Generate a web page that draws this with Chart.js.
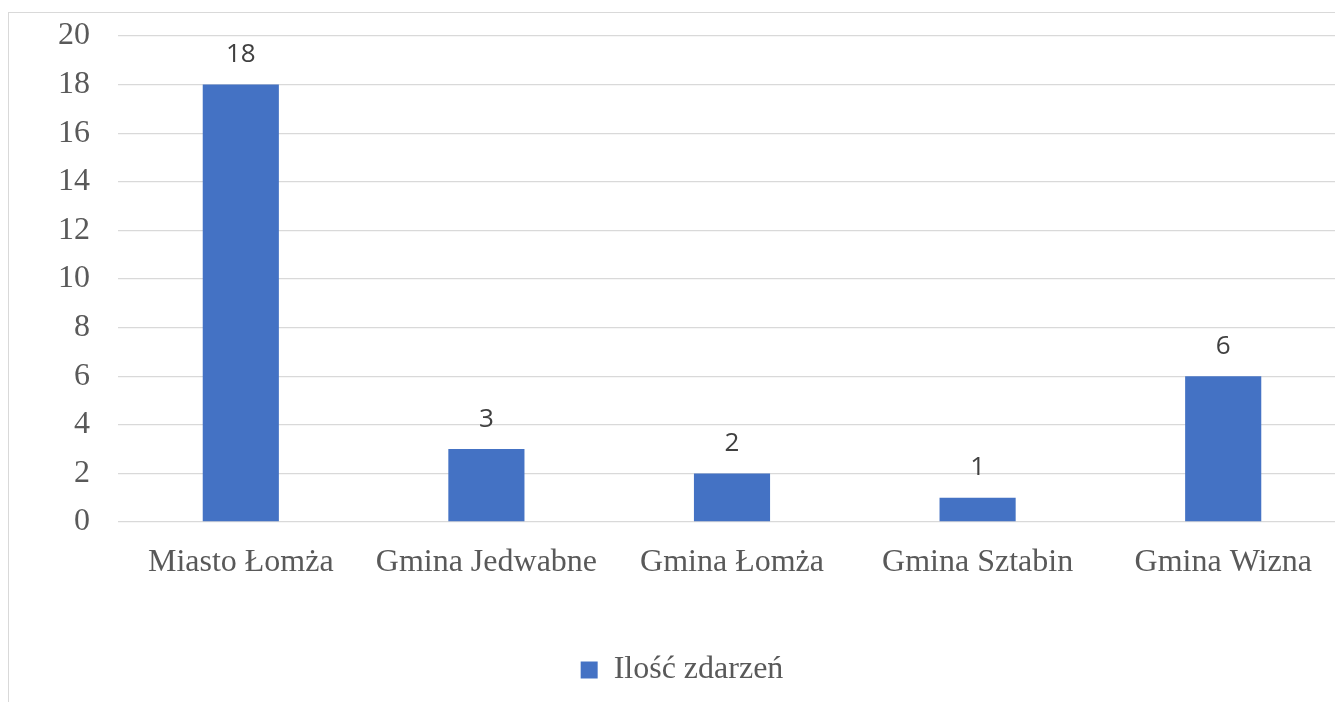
<!DOCTYPE html>
<html>
<head>
<meta charset="utf-8">
<script src="https://cdn.jsdelivr.net/npm/chart.js@4.4.0/dist/chart.umd.min.js"></script>
<style>
  html, body { margin: 0; padding: 0; background: #fff; overflow: hidden; }
  #frame {
    position: absolute; left: 8px; top: 12px; width: 1500px; height: 900px;
    border: 1px solid #d9d9d9; box-sizing: border-box;
  }
  #chart { position: absolute; left: 0; top: 0; }
</style>
</head>
<body>
<div id="frame"></div>
<canvas id="chart" width="1364" height="702"></canvas>
<script>
const categories = ['Miasto Łomża', 'Gmina Jedwabne', 'Gmina Łomża', 'Gmina Sztabin', 'Gmina Wizna'];
const values = [18, 3, 2, 1, 6];
const seriesName = 'Ilość zdarzeń';
const yTicks = [0, 2, 4, 6, 8, 10, 12, 14, 16, 18, 20];

const serif = '"Liberation Serif", "Times New Roman", serif';

// values written above each bar
const valueLabels = {
    id: 'valueLabels',
    afterDatasetsDraw(chart) {
        const ctx = chart.ctx;
        const meta = chart.getDatasetMeta(0);
        ctx.save();
        ctx.font = '26px "Open Sans", sans-serif';
        ctx.fillStyle = '#404040';
        ctx.textAlign = 'center';
        ctx.textBaseline = 'middle';
        meta.data.forEach((bar, i) => {
            ctx.fillText(String(values[i]), bar.x, bar.y - 30);
        });
        ctx.restore();
    }
};

new Chart(document.getElementById('chart'), {
    type: 'bar',
    data: {
        labels: categories,
        datasets: [{
            label: seriesName,
            data: values,
            backgroundColor: '#4472c4',
            borderWidth: 0,
            barPercentage: 0.31,
            categoryPercentage: 1
        }]
    },
    options: {
        responsive: false,
        animation: false,
        layout: { padding: { left: 18, right: 18, top: 36, bottom: 6 } },
        scales: {
            x: {
                grid: { display: false },
                border: { display: false },
                ticks: {
                    color: '#595959',
                    font: { family: serif, size: 32 },
                    padding: 13,
                    maxRotation: 0,
                    autoSkip: false
                },
                afterFit: (scale) => { scale.height = 122; }
            },
            y: {
                min: 0,
                max: 20,
                afterBuildTicks: (scale) => { scale.ticks = yTicks.map(v => ({ value: v })); },
                grid: { color: '#d9d9d9', lineWidth: 1.3, drawTicks: false },
                border: { display: false },
                ticks: {
                    color: '#595959',
                    font: { family: serif, size: 32 },
                    padding: 28
                },
                afterFit: (scale) => {
                    scale.width = 100;
                    scale.paddingTop = 0;
                    scale.paddingBottom = 0;
                }
            }
        },
        plugins: {
            legend: {
                position: 'bottom',
                labels: {
                    color: '#595959',
                    font: { family: serif, size: 32 },
                    boxWidth: 17,
                    boxHeight: 17,
                    padding: 10
                }
            },
            tooltip: { enabled: false }
        }
    },
    plugins: [valueLabels]
});
</script>
</body>
</html>
